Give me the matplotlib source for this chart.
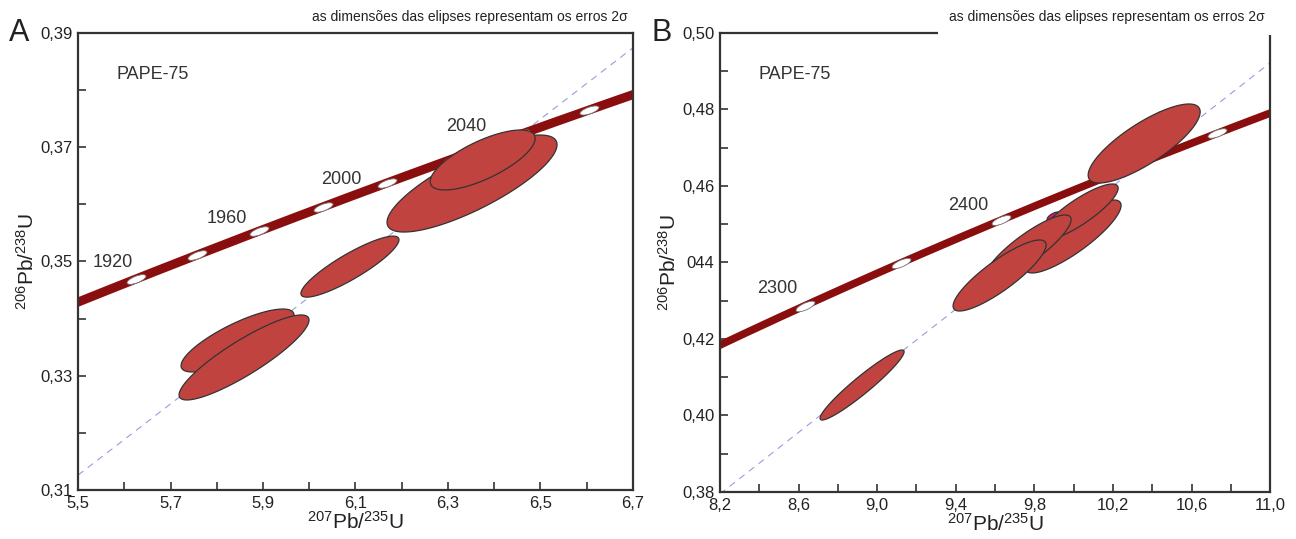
import numpy as np
import matplotlib
matplotlib.use("Agg")
import matplotlib.pyplot as plt
from matplotlib.patches import Polygon
from matplotlib.path import Path
from matplotlib.markers import MarkerStyle
from matplotlib.transforms import Affine2D

plt.rcParams['font.family'] = ['Liberation Sans', 'DejaVu Sans']
plt.rcParams['mathtext.fontset'] = 'custom'
plt.rcParams['mathtext.rm'] = 'Liberation Sans'
plt.rcParams['mathtext.it'] = 'Liberation Sans:italic'

# U decay constants (1/yr)
L238 = 1.55125e-10
L235 = 9.8485e-10

SAMPLE = "PAPE-75"
NOTE = "as dimensões das elipses representam os erros 2σ"

# panel A: spots as (207Pb/235U, 2s, 206Pb/238U, 2s, rho)
a_spots = [
    (5.845, 0.1222, 0.33617, 0.00551, 0.80),
    (5.859, 0.1405, 0.33320, 0.00744, 0.88),
    (6.088, 0.1060, 0.34910, 0.00534, 0.88),
    (6.352, 0.1838, 0.36365, 0.00849, 0.80),
    (6.375, 0.1135, 0.36777, 0.00525, 0.72),
]
a_ticks_age = [1920, 1940, 1960, 1980, 2000, 2020, 2040, 2060]
a_age_labels = ["1920", "1960", "2000", "2040"]
a_age_label_xy = [(5.576, 0.3499), (5.822, 0.3576), (6.069, 0.3643), (6.339, 0.3737)]
a_ref_line = [(5.5, 6.7), (0.3126, 0.3874)]
a_xticks = [5.5, 5.7, 5.9, 6.1, 6.3, 6.5, 6.7]
a_xticklabels = ['5,5', '5,7', '5,9', '6,1', '6,3', '6,5', '6,7']
a_yticks = [0.31, 0.33, 0.35, 0.37, 0.39]
a_yticklabels = ['0,31', '0,33', '0,35', '0,37', '0,39']

# panel B
b_spots = [
    (9.900, 0.0350, 0.45200, 0.00120, 0.60),
    (9.997, 0.2444, 0.44680, 0.00954, 0.85),
    (10.028, 0.1986, 0.45320, 0.00732, 0.85),
    (9.768, 0.2190, 0.44380, 0.00863, 0.86),
    (9.623, 0.2368, 0.43660, 0.00928, 0.86),
    (8.923, 0.2139, 0.40797, 0.00915, 0.95),
    (10.359, 0.2851, 0.47111, 0.01033, 0.80),
]
b_spot_colors = ['#d81b7c'] + ['#c04340'] * 6
b_ticks_age = [2300, 2350, 2400, 2450, 2500]
b_age_labels = ["2300", "2400", "2500"]
b_age_label_xy = [(8.49, 0.4333), (9.463, 0.4550), (10.52, 0.4773)]
b_ref_line = [(8.2, 11.0), (0.3795, 0.4922)]
b_xticks = [8.2, 8.6, 9.0, 9.4, 9.8, 10.2, 10.6, 11.0]
b_xticklabels = ['8,2', '8,6', '9,0', '9,4', '9,8', '10,2', '10,6', '11,0']
b_yticks = [0.38, 0.40, 0.42, 0.44, 0.46, 0.48, 0.50]
b_yticklabels = ['0,38', '0,40', '0,42', '044', '0,46', '0,48', '0,50']

BAND = '#8a0e0e'
FILL = '#c04340'
EDGE = '#333333'


def concordia(age_ma):
    t = np.asarray(age_ma) * 1e6
    return np.exp(L235 * t) - 1, np.exp(L238 * t) - 1


def error_ellipse(x, sx, y, sy, rho, n=200):
    t = np.linspace(0, 2 * np.pi, n)
    ex = x + sx * np.cos(t)
    ey = y + sy * (rho * np.cos(t) + np.sqrt(1 - rho ** 2) * np.sin(t))
    return np.column_stack([ex, ey])


def draw_panel(ax, xlim, ylim, xticks, xlabels, yticks, ylabels, xminor, yminor,
               age_range, marker_ages, label_txt, label_xy, ref, spots, colors,
               band_lw, letter, note_bg):
    ax.set_xlim(xlim)
    ax.set_ylim(ylim)

    # reference line through the data
    ax.plot(ref[0], ref[1], ls=(0, (6, 5)), color='#9a9ae0', lw=0.8, zorder=1)

    # concordia band
    ages = np.linspace(age_range[0], age_range[1], 300)
    cx, cy = concordia(ages)
    ax.plot(cx, cy, color=BAND, lw=band_lw, solid_capstyle='butt', zorder=2)

    # age markers, rotated along the curve
    for age in marker_ages:
        p0 = ax.transData.transform(np.column_stack(concordia([age - 1, age + 1])))
        ang = np.degrees(np.arctan2(p0[1, 1] - p0[0, 1], p0[1, 0] - p0[0, 0]))
        verts = Path.unit_circle()
        mpath = verts.transformed(Affine2D().scale(1, 0.33).rotate_deg(ang))
        mx, my = concordia(age)
        ax.plot([mx], [my], marker=MarkerStyle(mpath), ms=14, mfc='white',
                mec='#777777', mew=0.6, ls='none', zorder=3)

    for txt, (tx, ty) in zip(label_txt, label_xy):
        ax.text(tx, ty, txt, fontsize=13, color='#333333', ha='center',
                va='center', zorder=2.5)

    for (x, sx, y, sy, rho), c in zip(spots, colors):
        poly = Polygon(error_ellipse(x, sx, y, sy, rho), closed=True,
                       facecolor=c, edgecolor=EDGE, lw=0.9, zorder=4)
        ax.add_patch(poly)

    ax.set_xticks(xticks)
    ax.set_xticklabels(xlabels)
    ax.set_yticks(yticks)
    ax.set_yticklabels(ylabels)
    ax.set_xticks(xminor, minor=True)
    ax.set_yticks(yminor, minor=True)
    ax.tick_params(which='both', direction='in', length=6, width=1.2,
                   color='#333333', labelsize=12, labelcolor='#222222', pad=4)
    for s in ax.spines.values():
        s.set_linewidth(1.6)
        s.set_color('#333333')

    ax.set_xlabel(r'$^{207}$Pb/$^{235}$U', fontsize=15, labelpad=0, color='#222222')
    ax.set_ylabel(r'$^{206}$Pb/$^{238}$U', fontsize=15, labelpad=2, color='#222222')

    ax.text(0.07, 0.91, SAMPLE, transform=ax.transAxes, fontsize=13,
            color='#333333', ha='left', va='center')
    note_kw = {}
    if note_bg:
        # white box over the top frame line, as in the B panel
        note_kw['bbox'] = dict(facecolor='white', edgecolor='none', pad=8)
    ax.text(0.99, 1.035, NOTE, transform=ax.transAxes, fontsize=10,
            color='#222222', ha='right', va='center', zorder=10,
            clip_on=False, **note_kw)
    ax.text(-0.125, 1.0, letter, transform=ax.transAxes, fontsize=22,
            color='#222222', ha='left', va='center')


fig = plt.figure(figsize=(12.96, 5.39), dpi=100)
ax_a = fig.add_axes([0.0602, 0.0909, 0.4282, 0.8479])
ax_b = fig.add_axes([0.5556, 0.0872, 0.4244, 0.8516])

draw_panel(ax_a, (5.5, 6.7), (0.31, 0.39), a_xticks, a_xticklabels,
           a_yticks, a_yticklabels,
           [5.6, 5.8, 6.0, 6.2, 6.4, 6.6], [0.32, 0.34, 0.36, 0.38],
           (1880, 2100), a_ticks_age, a_age_labels, a_age_label_xy,
           a_ref_line, a_spots, [FILL] * len(a_spots), 6.5, 'A', False)

draw_panel(ax_b, (8.2, 11.0), (0.38, 0.50), b_xticks, b_xticklabels,
           b_yticks, b_yticklabels,
           [8.4, 8.8, 9.2, 9.6, 10.0, 10.4, 10.8],
           [0.39, 0.41, 0.43, 0.45, 0.47, 0.49],
           (2230, 2560), b_ticks_age, b_age_labels, b_age_label_xy,
           b_ref_line, b_spots, b_spot_colors, 5.5, 'B', True)

fig.savefig('out.png', dpi=100)
